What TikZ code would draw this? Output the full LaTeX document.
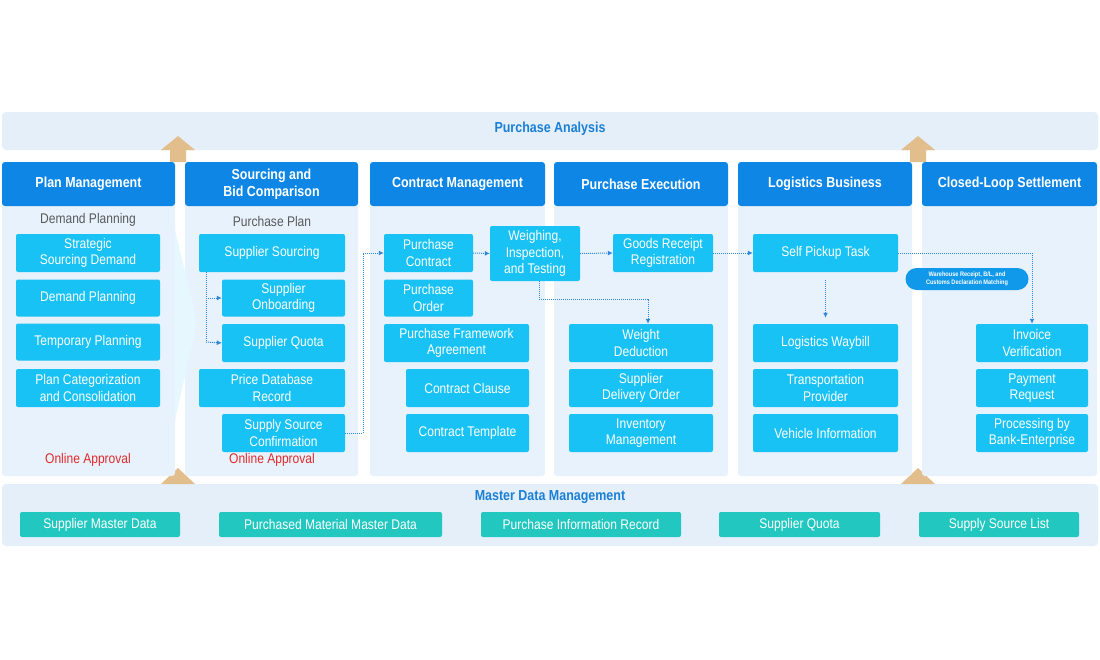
\documentclass[tikz,border=0pt]{standalone}
\usepackage{fontspec}
\setmainfont{Liberation Sans}[FakeStretch=0.86]
\usetikzlibrary{arrows.meta}
\definecolor{hdr}{HTML}{0D86E6}
\definecolor{itm}{HTML}{18C2F4}
\definecolor{bodyc}{HTML}{E8F2FC}
\definecolor{band}{HTML}{E4EFFA}
\definecolor{tealc}{HTML}{22C7BF}
\definecolor{ttl}{HTML}{1A7FD6}
\definecolor{gold}{HTML}{E2BE8C}
\definecolor{red1}{HTML}{E02A2A}
\definecolor{dots}{HTML}{2E86DE}
\begin{document}
\begin{tikzpicture}[x=1pt,y=-1pt,
  hd/.style={fill=hdr,rounded corners=3pt,text=white,font=\bfseries\fontsize{14.5}{17}\selectfont,align=center,inner sep=0},
  bx/.style={fill=itm,rounded corners=2pt,text=white,font=\fontsize{14}{16.5}\selectfont,align=center,inner sep=0},
  tl/.style={fill=tealc,rounded corners=2pt,text=white,font=\fontsize{14}{16}\selectfont,inner sep=0},
  bd/.style={fill=bodyc,rounded corners=3pt},
  lb/.style={text=black!65,font=\fontsize{14}{16}\selectfont},
  ap/.style={text=red1,font=\fontsize{14}{16}\selectfont},
  dl/.style={dots,densely dotted,line width=1pt},
  da/.style={dl,-{Latex[length=5pt,width=5pt]}},
  up/.style={fill=gold}]
\useasboundingbox (0,0) rectangle (1100,659);
\fill[white] (0,0) rectangle (1100,659);
% bands
\fill[band,rounded corners=4pt] (2,112) rectangle (1098,150);
\node[text=ttl,font=\bfseries\fontsize{14.5}{17}\selectfont] (pa) at (550,129) {Purchase Analysis};
\fill[band,rounded corners=4pt] (2,484) rectangle (1098,546);
\node[text=ttl,font=\bfseries\fontsize{14.5}{17}\selectfont] (md) at (550,497) {Master Data Management};
% arrows
\foreach \x in {178,918}{
  \fill[up] (\x-17,150) -- (\x,136) -- (\x+17,150) -- (\x+8,150) -- (\x+8,162) -- (\x-8,162) -- (\x-8,150) -- cycle;
  \fill[up] (\x-17,484) -- (\x,468) -- (\x+17,484) -- cycle;}
% column bodies and headers
\foreach \a/\b in {2/175,185/358,370/545,554/728,738/912,922/1097}{
  \fill[bd] (\a,200) rectangle (\b,476);}
\node[hd,minimum width=173,minimum height=44] (h1) at (88.5,184) {Plan Management};
\node[hd,minimum width=173,minimum height=44] (h2) at (271.5,184) {Sourcing and\\Bid Comparison};
\node[hd,minimum width=175,minimum height=44] (h3) at (457.5,184) {Contract Management};
\node[hd,minimum width=174,minimum height=44] (h4) at (641,184) {Purchase Execution};
\node[hd,minimum width=174,minimum height=44] (h5) at (825,184) {Logistics Business};
\node[hd,minimum width=175,minimum height=44] (h6) at (1009.5,184) {Closed-Loop Settlement};
% chevron
\fill[cyan!10] (175,230) -- (197,322) -- (175,420) -- cycle;
% column 1
\node[lb] (dp) at (88,220) {Demand Planning};
\node[bx,minimum width=144,minimum height=38] (c11) at (88,253) {Strategic\\Sourcing Demand};
\node[bx,minimum width=144,minimum height=37] (c12) at (88,298) {Demand Planning};
\node[bx,minimum width=144,minimum height=37] (c13) at (88,342) {Temporary Planning};
\node[bx,minimum width=144,minimum height=38] (c14) at (88,388) {Plan Categorization\\and Consolidation};
\node[ap] (ap1) at (88,460) {Online Approval};
% column 2
\node[lb] (pp) at (272,221) {Purchase Plan};
\node[bx,minimum width=146,minimum height=38] (c21) at (272,253) {Supplier Sourcing};
\node[bx,minimum width=123,minimum height=37] (c22) at (283.5,298) {Supplier\\Onboarding};
\node[bx,minimum width=123,minimum height=38] (c23) at (283.5,343) {Supplier Quota};
\node[bx,minimum width=146,minimum height=38] (c24) at (272,388) {Price Database\\Record};
\node[bx,minimum width=123,minimum height=38] (c25) at (283.5,433) {Supply Source\\Confirmation};
\node[ap] (ap2) at (272,460) {Online Approval};
\coordinate (s1) at (206,272);
\coordinate (s2) at (206,298);
\coordinate (s3) at (206,342);
\draw[dl] (s1) -- (s3);
\draw[da] (s2) -- (c22.west);
\draw[da] (s3) -- (c23.west);
% column 3
\node[bx,minimum width=89,minimum height=38] (c31) at (428.5,253) {Purchase\\Contract};
\node[bx,minimum width=89,minimum height=37] (c32) at (428.5,298) {Purchase\\Order};
\node[bx,minimum width=145,minimum height=38] (c33) at (456.5,343) {Purchase Framework\\Agreement};
\node[bx,minimum width=123,minimum height=38] (c34) at (467.5,388) {Contract Clause};
\node[bx,minimum width=123,minimum height=38] (c35) at (467.5,433) {Contract Template};
\node[bx,minimum width=90,minimum height=55] (wt) at (535,253.5) {Weighing,\\Inspection,\\and Testing};
\coordinate (k1) at (363,433);
\coordinate (k2) at (363,253);
\draw[da] (c25.east) -- (k1) -- (k2) -- (c31.west);
\draw[da] (c31.east) -- (wt.west);
% column 4
\node[bx,minimum width=100,minimum height=38] (gr) at (663,253) {Goods Receipt\\Registration};
\node[bx,minimum width=144,minimum height=38] (c41) at (641,343) {Weight\\Deduction};
\node[bx,minimum width=144,minimum height=38] (c42) at (641,388) {Supplier\\Delivery Order};
\node[bx,minimum width=144,minimum height=38] (c43) at (641,433) {Inventory\\Management};
\draw[da] (wt.east) -- (gr.west);
\coordinate (w1) at (539,299);
\coordinate (w2) at (648,299);
\draw[da] (wt.south -| w1) -- (w1) -- (w2) -- (c41.north -| w2);
% column 5
\node[bx,minimum width=145,minimum height=38] (sp) at (825.5,253) {Self Pickup Task};
\node[bx,minimum width=145,minimum height=38] (c51) at (825.5,343) {Logistics Waybill};
\node[bx,minimum width=145,minimum height=38] (c52) at (825.5,388) {Transportation\\Provider};
\node[bx,minimum width=145,minimum height=38] (c53) at (825.5,433) {Vehicle Information};
\draw[da] (gr.east) -- (sp.west);
\draw[da] ([yshift=-8pt]sp.south) -- ([yshift=6pt]c51.north);
% column 6
\node[bx,minimum width=112,minimum height=38] (c61) at (1032,343) {Invoice\\Verification};
\node[bx,minimum width=112,minimum height=38] (c62) at (1032,388) {Payment\\Request};
\node[bx,minimum width=112,minimum height=38] (c63) at (1032,433) {Processing by\\Bank-Enterprise};
\coordinate (t1) at (1032,253);
\draw[da] (sp.east) -- (t1) -- (c61.north);
\node[fill=hdr!70!itm,rounded corners=11pt,minimum width=123,minimum height=22,inner sep=0,text=white,align=center,font=\bfseries\fontsize{6.5}{8}\selectfont] (pill) at (967,279) {Warehouse Receipt, B/L, and\\Customs Declaration Matching};
% master data
\node[tl,minimum width=160,minimum height=25] (m1) at (100,524.5) {Supplier Master Data};
\node[tl,minimum width=223,minimum height=25] (m2) at (330.5,524.5) {Purchased Material Master Data};
\node[tl,minimum width=200,minimum height=25] (m3) at (581,524.5) {Purchase Information Record};
\node[tl,minimum width=161,minimum height=25] (m4) at (799.5,524.5) {Supplier Quota};
\node[tl,minimum width=160,minimum height=25] (m5) at (999,524.5) {Supply Source List};
\end{tikzpicture}
\end{document}
